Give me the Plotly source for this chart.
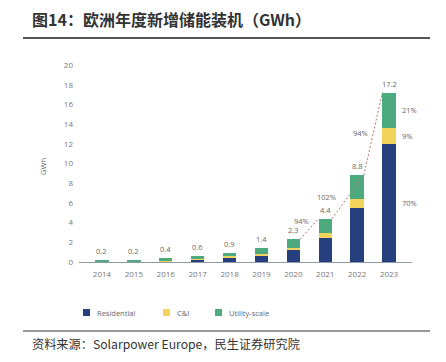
import plotly.graph_objects as go

years = [2014, 2015, 2016, 2017, 2018, 2019, 2020, 2021, 2022, 2023]
year_labels = [str(y) for y in years]
residential = [0.05, 0.05, 0.1, 0.25, 0.45, 0.65, 1.25, 2.4, 5.5, 12.0]
cni = [0.0, 0.0, 0.1, 0.1, 0.15, 0.15, 0.15, 0.5, 0.9, 1.6]
utility = [0.15, 0.15, 0.2, 0.25, 0.3, 0.6, 0.9, 1.5, 2.4, 3.6]
totals = [0.2, 0.2, 0.4, 0.6, 0.9, 1.4, 2.3, 4.4, 8.8, 17.2]
total_labels = ["0.2", "0.2", "0.4", "0.6", "0.9", "1.4", "2.3", "4.4", "8.8", "17.2"]
growth_years = [2020, 2021, 2022, 2023]
growth_labels = ["94%", "102%", "94%"]
share_labels_2023 = ["70%", "9%", "21%"]
y_ticks = [0, 2, 4, 6, 8, 10, 12, 14, 16, 18, 20]

C_RES = "#263f7e"
C_CNI = "#f3d35c"
C_UTIL = "#4daa7e"
GRAY = "#777777"
TICKFONT = dict(family="Open Sans, Noto Sans, sans-serif", size=8, color=GRAY)
LABFONT = dict(family="Open Sans, Noto Sans, sans-serif", size=7.5, color="#666666")
CJK = "Noto Sans CJK SC, Noto Sans, sans-serif"

W, H = 446, 362
L, R, T, B = 79, 34, 65, 100
PW, PH = W - L - R, H - T - B
BW = 0.42


def px(x):
    return (x - L) / PW


def py(y):
    return (H - B - y) / PH


fig = go.Figure()
for name, vals, col in [("Residential", residential, C_RES), ("C&I", cni, C_CNI), ("Utility-scale", utility, C_UTIL)]:
    fig.add_trace(go.Bar(x=years, y=vals, name=name, marker=dict(color=col, line=dict(width=0)),
                         width=BW, showlegend=False, hoverinfo="skip"))

# dashed growth line: segments between bar-top corners
gi = [years.index(y) for y in growth_years]
gy = [totals[i] for i in gi]
g = growth_years
seg_pts = [
    ((g[0] + BW / 2, gy[0]), (g[1] - BW / 2, gy[1])),
    ((g[1] + BW / 2, gy[1]), (g[2] + BW / 2, gy[2])),
    ((g[2] + BW / 2, gy[2]), (g[3] - BW / 2, gy[3])),
]
lx, ly = [], []
for a, b in seg_pts:
    lx += [a[0], b[0], None]
    ly += [a[1], b[1], None]
fig.add_trace(go.Scatter(x=lx, y=ly, mode="lines", line=dict(color="#b8756b", width=1, dash="2px,2px"),
                         showlegend=False, hoverinfo="skip", connectgaps=False))

annotations = []
for yr, tot, lab in zip(years, totals, total_labels):
    annotations.append(dict(x=yr, y=tot, xref="x", yref="y", text=lab, showarrow=False,
                            yanchor="bottom", yshift=2, font=LABFONT))

g_shift = [(2, 8), (-10, 0), (-3, 1)]
for (a, b), lab, sh in zip(seg_pts, growth_labels, g_shift):
    mx = (a[0] + b[0]) / 2
    my = (a[1] + b[1]) / 2
    annotations.append(dict(x=mx, y=my, xref="x", yref="y", text=lab, showarrow=False,
                            xanchor="right", xshift=sh[0], yshift=sh[1], font=LABFONT))

i23 = years.index(2023)
segs = [residential[i23], cni[i23], utility[i23]]
base = 0
for v, lab in zip(segs, share_labels_2023):
    annotations.append(dict(x=2023 + BW / 2, y=base + v / 2, xref="x", yref="y", text=lab, showarrow=False,
                            xanchor="left", xshift=4, font=LABFONT))
    base += v

annotations.append(dict(x=px(36), y=py(167), xref="paper", yref="paper", text="GWh", textangle=-90,
                        showarrow=False, font=LABFONT))

annotations.append(dict(x=px(30), y=py(19), xref="paper", yref="paper", xanchor="left", yanchor="middle",
                        text="<b>图14：欧洲年度新增储能装机（GWh）</b>", showarrow=False,
                        font=dict(family=CJK, size=16, color="#333333")))
annotations.append(dict(x=px(30), y=py(344), xref="paper", yref="paper", xanchor="left", yanchor="middle",
                        text="资料来源：Solarpower Europe，民生证券研究院", showarrow=False,
                        font=dict(family=CJK, size=12.2, color="#333333")))

shapes = [
    dict(type="line", xref="paper", yref="paper", x0=px(23), x1=px(430), y0=py(38), y1=py(38),
         line=dict(color="#555555", width=2)),
    dict(type="line", xref="paper", yref="paper", x0=px(23), x1=px(430), y0=py(331), y1=py(331),
         line=dict(color="#777777", width=1.5)),
]

legend_items = [("Residential", C_RES, 83), ("C&I", C_CNI, 163), ("Utility-scale", C_UTIL, 215)]
for name, col, x0 in legend_items:
    shapes.append(dict(type="rect", xref="paper", yref="paper", x0=px(x0), x1=px(x0 + 7),
                       y0=py(316), y1=py(309), fillcolor=col, line=dict(width=0)))
    annotations.append(dict(x=px(x0 + 12), y=py(312.5), xref="paper", yref="paper", xanchor="left",
                            yanchor="middle", text=name, showarrow=False, font=LABFONT))

fig.update_layout(
    width=W, height=H, margin=dict(l=L, r=R, t=T, b=B, pad=0),
    paper_bgcolor="white", plot_bgcolor="white", barmode="stack", bargap=0,
    annotations=annotations, shapes=shapes, showlegend=False,
    xaxis=dict(range=[2013.28, 2023.72], tickvals=years, ticktext=year_labels, showgrid=False,
               zeroline=False, showline=True, linecolor="#8f9aa8", linewidth=1, ticks="",
               tickfont=TICKFONT, ticklabelstandoff=4, fixedrange=True),
    yaxis=dict(range=[0, 20], tickvals=y_ticks, showgrid=False, zeroline=False, showline=False,
               ticks="", tickfont=TICKFONT, ticklabelstandoff=5, fixedrange=True),
)

fig.write_html("out.html", config={"displayModeBar": False},
               post_script="document.body.style.margin='0';document.body.style.overflow='hidden';")
